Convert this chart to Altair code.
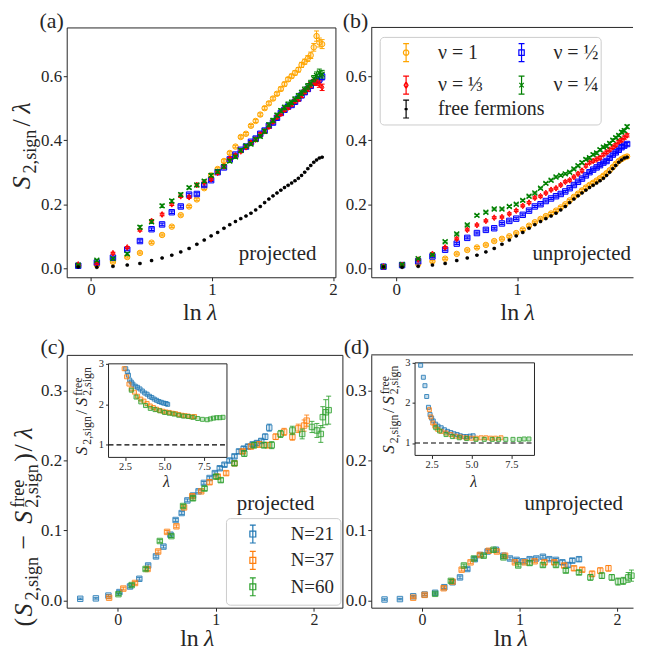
import altair as alt
import pandas as pd

FONT = "Liberation Serif"
INK = "#262626"

# ---------------- data: panels (a) and (b) ----------------
LN_LAMBDA = [-0.105, 0.049, 0.182, 0.300, 0.405, 0.501, 0.588, 0.668, 0.742, 0.811,
             0.875, 0.936, 0.993, 1.047, 1.099, 1.147, 1.194, 1.238, 1.281, 1.322,
             1.361, 1.399, 1.435, 1.470, 1.504, 1.537, 1.569, 1.599, 1.629, 1.658,
             1.686, 1.714, 1.740, 1.766, 1.792, 1.816, 1.841, 1.864, 1.887, 1.910]

A_NU1 = [0.008, 0.010, 0.020, 0.035, 0.048, 0.080, 0.104, 0.130, 0.166, 0.193,
         0.215, 0.250, 0.290, 0.310, 0.335, 0.360, 0.380, 0.410, 0.420, 0.445,
         0.460, 0.480, 0.500, 0.515, 0.530, 0.545, 0.560, 0.575, 0.590, 0.600,
         0.610, 0.620, 0.635, 0.645, 0.655, 0.665, 0.690, 0.725, 0.705, 0.700]
A_NU2 = [0.008, 0.018, 0.033, 0.058, 0.085, 0.122, 0.137, 0.175, 0.193, 0.230,
         0.232, 0.260, 0.275, 0.300, 0.315, 0.340, 0.355, 0.370, 0.380, 0.395,
         0.405, 0.420, 0.430, 0.445, 0.455, 0.470, 0.485, 0.495, 0.505, 0.510,
         0.520, 0.530, 0.540, 0.550, 0.560, 0.570, 0.580, 0.585, 0.590, 0.598]
A_NU3 = [0.012, 0.015, 0.047, 0.065, 0.120, 0.148, 0.168, 0.200, 0.225, 0.222,
         0.260, 0.268, 0.278, 0.298, 0.318, 0.342, 0.352, 0.365, 0.378, 0.392,
         0.402, 0.418, 0.428, 0.442, 0.458, 0.472, 0.482, 0.495, 0.502, 0.512,
         0.522, 0.528, 0.540, 0.552, 0.560, 0.572, 0.582, 0.580, 0.575, 0.565]
A_NU4 = [0.010, 0.025, 0.030, 0.045, 0.128, 0.145, 0.195, 0.210, 0.230, 0.252,
         0.260, 0.272, 0.290, 0.302, 0.318, 0.335, 0.348, 0.368, 0.382, 0.388,
         0.402, 0.412, 0.428, 0.448, 0.462, 0.478, 0.492, 0.502, 0.512, 0.518,
         0.528, 0.538, 0.548, 0.558, 0.568, 0.578, 0.592, 0.602, 0.610, 0.606]
FREE = [0.004, 0.003, 0.006, 0.010, 0.015, 0.024, 0.032, 0.041, 0.051, 0.062,
        0.075, 0.088, 0.101, 0.112, 0.125, 0.136, 0.146, 0.155, 0.163, 0.172,
        0.182, 0.193, 0.205, 0.216, 0.226, 0.235, 0.244, 0.252, 0.259, 0.266,
        0.273, 0.281, 0.290, 0.300, 0.311, 0.321, 0.331, 0.338, 0.344, 0.347]

B_NU1 = [0.005, 0.010, 0.013, 0.022, 0.030, 0.045, 0.057, 0.065, 0.073, 0.085,
         0.092, 0.100, 0.110, 0.121, 0.133, 0.144, 0.154, 0.163, 0.171, 0.180,
         0.190, 0.200, 0.212, 0.223, 0.233, 0.243, 0.252, 0.260, 0.267, 0.274,
         0.281, 0.289, 0.297, 0.306, 0.316, 0.326, 0.335, 0.341, 0.346, 0.349]
B_NU2 = [0.005, 0.010, 0.022, 0.037, 0.058, 0.077, 0.095, 0.110, 0.120, 0.125,
         0.140, 0.148, 0.155, 0.167, 0.180, 0.193, 0.200, 0.210, 0.218, 0.225,
         0.232, 0.240, 0.250, 0.260, 0.270, 0.280, 0.290, 0.300, 0.308, 0.315,
         0.322, 0.330, 0.335, 0.345, 0.355, 0.362, 0.370, 0.378, 0.383, 0.388]
B_NU3 = [0.005, 0.010, 0.027, 0.045, 0.065, 0.092, 0.120, 0.135, 0.148, 0.158,
         0.160, 0.170, 0.180, 0.195, 0.205, 0.220, 0.225, 0.235, 0.245, 0.250,
         0.260, 0.270, 0.275, 0.285, 0.295, 0.305, 0.320, 0.330, 0.335, 0.340,
         0.345, 0.355, 0.362, 0.370, 0.378, 0.385, 0.395, 0.400, 0.408, 0.415]
B_NU4 = [0.005, 0.012, 0.030, 0.042, 0.083, 0.107, 0.135, 0.165, 0.175, 0.185,
         0.185, 0.193, 0.200, 0.212, 0.225, 0.235, 0.250, 0.265, 0.275, 0.285,
         0.290, 0.295, 0.300, 0.310, 0.320, 0.330, 0.340, 0.345, 0.355, 0.360,
         0.370, 0.378, 0.382, 0.390, 0.400, 0.408, 0.415, 0.425, 0.430, 0.442]

ERR_A_NU1 = [0.003, 0.003, 0.003, 0.003, 0.003, 0.003, 0.003, 0.003, 0.003, 0.003,
             0.004, 0.004, 0.004, 0.004, 0.004, 0.004, 0.004, 0.004, 0.004, 0.004,
             0.005, 0.005, 0.005, 0.005, 0.005, 0.005, 0.006, 0.006, 0.006, 0.006,
             0.007, 0.007, 0.008, 0.008, 0.009, 0.010, 0.012, 0.016, 0.014, 0.014]
ERR_A_MID = [0.003, 0.003, 0.003, 0.003, 0.004, 0.004, 0.004, 0.004, 0.004, 0.004,
             0.004, 0.004, 0.004, 0.004, 0.004, 0.004, 0.004, 0.004, 0.004, 0.004,
             0.005, 0.005, 0.005, 0.005, 0.005, 0.005, 0.005, 0.005, 0.006, 0.006,
             0.006, 0.006, 0.007, 0.007, 0.007, 0.008, 0.008, 0.009, 0.010, 0.010]
ERR_A_NU4 = [0.003, 0.003, 0.003, 0.004, 0.005, 0.005, 0.005, 0.005, 0.005, 0.004,
             0.004, 0.004, 0.005, 0.005, 0.005, 0.005, 0.005, 0.005, 0.005, 0.005,
             0.005, 0.005, 0.006, 0.006, 0.006, 0.006, 0.006, 0.007, 0.007, 0.007,
             0.007, 0.008, 0.008, 0.008, 0.009, 0.009, 0.010, 0.011, 0.012, 0.012]
ERR_B = [0.002, 0.002, 0.002, 0.003, 0.003, 0.003, 0.003, 0.003, 0.003, 0.003,
         0.003, 0.003, 0.003, 0.003, 0.003, 0.003, 0.003, 0.003, 0.003, 0.003,
         0.003, 0.003, 0.003, 0.003, 0.003, 0.004, 0.004, 0.004, 0.004, 0.004,
         0.004, 0.004, 0.004, 0.004, 0.004, 0.004, 0.004, 0.005, 0.005, 0.005]
ERR_FREE = [0.002, 0.002, 0.002, 0.002, 0.002, 0.002, 0.002, 0.002, 0.002, 0.002,
            0.002, 0.002, 0.002, 0.002, 0.002, 0.002, 0.002, 0.002, 0.002, 0.002,
            0.002, 0.002, 0.002, 0.002, 0.002, 0.002, 0.002, 0.002, 0.002, 0.002,
            0.002, 0.002, 0.002, 0.002, 0.002, 0.002, 0.002, 0.002, 0.002, 0.002]

# ---------------- data: panel (c) (projected) ----------------
C_N21_X = [-0.382, -0.223, -0.095, 0.017, 0.125, 0.220, 0.310, 0.390, 0.466, 0.537,
           0.590, 0.652, 0.710, 0.767, 0.824, 0.878, 0.936, 0.990, 1.040, 1.088,
           1.139, 1.190, 1.236, 1.284, 1.328, 1.375, 1.419, 1.463, 1.503, 1.544]
C_N21_Y = [0.0024, 0.003, 0.007, 0.012, 0.020, 0.031, 0.050, 0.063, 0.077, 0.094,
           0.115, 0.125, 0.143, 0.150, 0.156, 0.168, 0.175, 0.182, 0.189, 0.194,
           0.200, 0.206, 0.213, 0.217, 0.220, 0.223, 0.225, 0.228, 0.234, 0.247]
C_N21_E = [0.001, 0.001, 0.0015, 0.002, 0.002, 0.002, 0.002, 0.002, 0.002, 0.002,
           0.002, 0.002, 0.002, 0.002, 0.002, 0.002, 0.002, 0.002, 0.0025, 0.0025,
           0.0025, 0.0025, 0.003, 0.003, 0.003, 0.003, 0.003, 0.003, 0.004, 0.005]
C_N37_X = [-0.088, 0.057, 0.176, 0.304, 0.412, 0.503, 0.598, 0.676, 0.760, 0.851,
           0.936, 1.020, 1.105, 1.190, 1.274, 1.358, 1.443, 1.527, 1.610, 1.696,
           1.780, 1.840, 1.900, 1.926]
C_N37_Y = [0.004, 0.017, 0.025, 0.045, 0.070, 0.098, 0.106, 0.133, 0.149, 0.156,
           0.169, 0.177, 0.182, 0.196, 0.213, 0.220, 0.223, 0.222, 0.234, 0.241,
           0.234, 0.246, 0.250, 0.257]
C_N37_E = [0.0015, 0.002, 0.002, 0.002, 0.002, 0.002, 0.002, 0.002, 0.002, 0.002,
           0.003, 0.003, 0.003, 0.003, 0.003, 0.003, 0.004, 0.004, 0.004, 0.005,
           0.005, 0.006, 0.008, 0.008]
C_N60_X = [0.007, 0.142, 0.284, 0.429, 0.547, 0.666, 0.767, 0.885, 1.003, 1.050,
           1.190, 1.290, 1.390, 1.490, 1.570, 1.660, 1.780, 1.880, 1.980, 2.030,
           2.070, 2.090, 2.120, 2.150]
C_N60_Y = [0.009, 0.022, 0.045, 0.085, 0.092, 0.135, 0.146, 0.160, 0.177, 0.172,
           0.196, 0.210, 0.222, 0.222, 0.222, 0.238, 0.243, 0.238, 0.248, 0.243,
           0.238, 0.262, 0.269, 0.272]
C_N60_E = [0.002, 0.002, 0.002, 0.002, 0.002, 0.002, 0.003, 0.003, 0.003, 0.003,
           0.003, 0.004, 0.004, 0.004, 0.005, 0.005, 0.006, 0.007, 0.008, 0.010,
           0.012, 0.015, 0.018, 0.020]

# ---------------- data: panel (d) (unprojected) ----------------
D_N21_X = [-0.384, -0.226, -0.090, 0.027, 0.135, 0.229, 0.313, 0.390, 0.465, 0.542,
           0.600, 0.673, 0.758, 0.835, 0.902, 0.970, 1.037, 1.104, 1.172, 1.240,
           1.306, 1.374, 1.440, 1.498, 1.542, 1.610]
D_N21_Y = [0.0014, 0.002, 0.006, 0.0085, 0.011, 0.019, 0.026, 0.033, 0.045, 0.059,
           0.065, 0.070, 0.0725, 0.064, 0.060, 0.058, 0.056, 0.059, 0.060, 0.0625,
           0.059, 0.058, 0.0545, 0.0507, 0.057, 0.059]
D_N21_E = [0.001, 0.001, 0.001, 0.0015, 0.0015, 0.002, 0.002, 0.002, 0.002, 0.002,
           0.002, 0.002, 0.002, 0.002, 0.002, 0.002, 0.002, 0.002, 0.002, 0.002,
           0.002, 0.002, 0.003, 0.003, 0.003, 0.003]
D_N37_X = [-0.090, 0.027, 0.222, 0.313, 0.407, 0.498, 0.593, 0.684, 0.768, 0.852,
           0.953, 1.054, 1.155, 1.256, 1.357, 1.458, 1.559, 1.643, 1.744, 1.828, 1.912]
D_N37_Y = [0.004, 0.008, 0.0175, 0.027, 0.044, 0.0545, 0.065, 0.071, 0.070, 0.064,
           0.0545, 0.0545, 0.056, 0.0545, 0.0545, 0.050, 0.046, 0.044, 0.038, 0.0427, 0.046]
D_N37_E = [0.001, 0.0015, 0.002, 0.002, 0.002, 0.002, 0.002, 0.002, 0.002, 0.002,
           0.002, 0.002, 0.002, 0.003, 0.003, 0.003, 0.003, 0.003, 0.004, 0.004, 0.004]
D_N60_X = [0.135, 0.296, 0.430, 0.532, 0.633, 0.734, 0.835, 0.987, 1.104, 1.240,
           1.374, 1.475, 1.610, 1.727, 1.845, 1.946, 2.010, 2.064, 2.114, 2.148]
D_N60_Y = [0.0095, 0.028, 0.050, 0.060, 0.064, 0.0725, 0.0616, 0.050, 0.0536, 0.0507,
           0.0507, 0.0427, 0.040, 0.033, 0.0355, 0.033, 0.027, 0.028, 0.033, 0.0355]
D_N60_E = [0.0015, 0.002, 0.002, 0.002, 0.002, 0.002, 0.002, 0.002, 0.003, 0.003,
           0.003, 0.003, 0.003, 0.004, 0.004, 0.004, 0.005, 0.005, 0.007, 0.008]

# ---------------- data: insets (ratio vs lambda) ----------------
CI_N21_L = [2.55, 2.65, 2.72, 2.8, 2.9, 3.0, 3.15, 3.3, 3.45, 3.6, 3.75, 3.9, 4.05,
            4.2, 4.35, 4.5, 4.65, 4.8, 4.95, 5.1, 5.2]
CI_N21_R = [2.88, 2.8, 2.72, 2.6, 2.55, 2.5, 2.45, 2.42, 2.38, 2.33, 2.28, 2.25, 2.2,
            2.17, 2.13, 2.1, 2.07, 2.05, 2.03, 2.02, 2.0]
CI_N37_L = [2.45, 2.6, 2.75, 2.9, 3.1, 3.3, 3.5, 3.7, 3.9, 4.1, 4.3, 4.5, 4.7, 4.9,
            5.1, 5.3, 5.5, 5.7, 5.9, 6.1, 6.3, 6.5, 6.7, 6.9]
CI_N37_R = [2.88, 2.68, 2.5, 2.38, 2.3, 2.2, 2.13, 2.08, 2.02, 1.96, 1.92, 1.88, 1.85,
            1.83, 1.81, 1.8, 1.78, 1.77, 1.75, 1.73, 1.72, 1.71, 1.69, 1.7]
CI_N60_L = [2.9, 3.2, 3.5, 3.8, 4.1, 4.4, 4.7, 5.0, 5.3, 5.6, 5.9, 6.2, 6.5, 6.8, 7.1,
            7.4, 7.7, 7.9, 8.1, 8.3, 8.5, 8.7]
CI_N60_R = [2.35, 2.18, 2.06, 1.97, 1.9, 1.87, 1.84, 1.8, 1.78, 1.76, 1.73, 1.71, 1.7,
            1.68, 1.65, 1.63, 1.62, 1.64, 1.66, 1.67, 1.67, 1.68]

DI_N21_L = [1.81, 1.98, 2.08, 2.19, 2.3, 2.4, 2.5, 2.6, 2.75, 2.9, 3.1, 3.3, 3.5, 3.7,
            3.9, 4.1, 4.3, 4.5, 4.7, 4.9, 5.1]
DI_N21_R = [2.94, 2.64, 2.43, 2.16, 1.89, 1.71, 1.62, 1.55, 1.47, 1.42, 1.38, 1.33,
            1.29, 1.26, 1.23, 1.21, 1.18, 1.16, 1.16, 1.17, 1.18]
DI_N37_L = [2.36, 2.45, 2.57, 2.7, 2.88, 3.1, 3.4, 3.7, 4.0, 4.3, 4.65, 5.0, 5.3, 5.6,
            5.9, 6.2, 6.5, 6.85]
DI_N37_R = [1.83, 1.65, 1.5, 1.42, 1.34, 1.29, 1.25, 1.21, 1.17, 1.15, 1.13, 1.12,
            1.12, 1.13, 1.13, 1.12, 1.12, 1.13]
DI_N60_L = [2.76, 3.0, 3.4, 3.8, 4.23, 4.7, 5.28, 5.8, 6.3, 6.7, 7.15, 7.6, 8.0, 8.3, 8.6]
DI_N60_R = [1.38, 1.3, 1.21, 1.16, 1.13, 1.11, 1.09, 1.09, 1.09, 1.09, 1.09, 1.09,
            1.09, 1.1, 1.1]

# ---------------- labels / colours ----------------
NU_LABELS = ["ν = 1", "ν = ½", "ν = ⅓", "ν = ¼"]
FREE_LABEL = "free fermions"
NU_COLORS = ["#ffa500", "#0000ff", "#ff0000", "#008000", "#000000"]
N_LABELS = ["N=21", "N=37", "N=60"]
N_COLORS = ["#1f77b4", "#ff7f0e", "#2ca02c"]
REF_RATIO = 1.0

# ---------------- layout constants ----------------
WA, HA = 270, 251
WB = 263
WC, HC = 277, 254
WD = 263
XD_A = [-0.2, 2.02]
XD_B = [-0.206, 1.959]
YD_AB = [-0.028, 0.752]
XD_C = [-0.52, 2.29]
XD_D = [-0.52, 2.164]
YD_CD = [-0.0103, 0.351]
INSET_XD = [1.46, 8.95]
INSET_YD = [0.69, 3.0]

THIN_DIAMOND = "M0,-1L0.6,0L0,1L-0.6,0Z"
XMARK = "M-1,-1L1,1M-1,1L1,-1"
EB = "M0,-1L0,1M-0.33,-1L0.33,-1M-0.33,1L0.33,1"
L_CIRCLE = EB + "M0.3,0A0.3,0.3 0 1,1 -0.3,0A0.3,0.3 0 1,1 0.3,0Z"
L_SQUARE = EB + "M-0.3,-0.3L0.3,-0.3L0.3,0.3L-0.3,0.3Z"
L_DIAMOND = EB + "M0,-0.38L0.22,0L0,0.38L-0.22,0Z"
L_X = EB + "M-0.25,-0.25L0.25,0.25M-0.25,0.25L0.25,-0.25"
L_DOT = EB + "M0.12,0A0.12,0.12 0 1,1 -0.12,0A0.12,0.12 0 1,1 0.12,0Z"
L_SQ = EB + "M-0.33,-0.33L0.33,-0.33L0.33,0.33L-0.33,0.33Z"

ONE = pd.DataFrame({"k": [0]})

# advance widths (em) of the math glyphs, Computer-Modern-like spacing
CW = {" ": 0.25, "(": 0.389, ")": 0.389, ",": 0.278, ".": 0.278, "/": 0.5,
      "=": 0.778, "−": 0.778, "a": 0.5, "c": 0.444, "d": 0.556, "e": 0.444,
      "f": 0.306, "g": 0.5, "i": 0.278, "j": 0.306, "l": 0.278, "n": 0.556,
      "o": 0.5, "p": 0.556, "r": 0.392, "s": 0.394, "t": 0.389, "u": 0.556,
      "S": 0.613, "λ": 0.583, "N": 0.75}


def txt(text, x, y, size, align="left", style="normal", angle=0, dx=0.0, dy=0.0):
    return alt.Chart(ONE).mark_text(
        text=text, font=FONT, fontSize=size, fontStyle=style, align=align,
        baseline="alphabetic", angle=angle, dx=dx, dy=dy, color=INK
    ).encode(x=alt.value(x), y=alt.value(y))


def seg_w(t, sc, size):
    return sum(CW.get(c, 0.5) for c in t) * sc * size


def math_label(segs, x, y, size, angle=0):
    pos = 0.0
    placed = []
    for s in segs:
        t, it, sc, sh = s[0], s[1], s[2], s[3]
        adv = s[4] if len(s) > 4 else True
        gap = s[5] if len(s) > 5 else 0.0
        placed.append((t, it, sc, sh, pos))
        if adv:
            pos += seg_w(t, sc, size) + gap * size
    start = -pos / 2.0
    return [txt(t, x, y, size * sc, style="italic" if it else "normal", angle=angle,
                dx=round(start + p, 2), dy=round(sh * size, 2))
            for (t, it, sc, sh, p) in placed]


SUB, SUP = 0.24, -0.30
LN_TITLE = [("ln", False, 1, 0, True, 0.17), ("λ", True, 1, 0)]
Y_AB = [("S", True, 1, 0), ("2,sign", False, 0.7, SUB, True, 0.06), ("/", False, 1, 0),
        ("λ", True, 1, 0)]
Y_CD = [("(", False, 1, 0), ("S", True, 1, 0), ("2,sign", False, 0.7, SUB, True, 0.22),
        ("−", False, 1, 0, True, 0.22), ("S", True, 1, 0), ("free", False, 0.7, SUP, False),
        ("2,sign", False, 0.7, SUB, True, 0.03), (")", False, 1, 0), ("/", False, 1, 0),
        ("λ", True, 1, 0)]
Y_INSET = [("S", True, 1, 0), ("2,sign", False, 0.7, SUB, True, 0.03), ("/", False, 1, 0),
           ("S", True, 1, 0), ("free", False, 0.7, SUP, False), ("2,sign", False, 0.7, SUB)]


def axis(values, fmt, orient, domain=False, size=17, offset=0, tick=3.5, pad=1):
    return alt.Axis(values=values, format=fmt, orient=orient, title=None, grid=False,
                    domain=domain, domainColor=INK, domainWidth=1, tickColor=INK,
                    tickSize=tick, tickWidth=1, labelColor=INK, labelFont=FONT,
                    labelFontSize=size, labelPadding=pad, labelFlush=False,
                    labelOverlap=False, offset=offset)


def series_layers(xs, ys, es, color, shape, size, sx, sy, ax, ay, fill_op=0.25,
                  sw=1.0, cap=5, op=1.0):
    df = pd.DataFrame({"x": xs, "y": ys, "e": es})
    base = alt.Chart(df).transform_calculate(lo="datum.y - datum.e", hi="datum.y + datum.e")
    X = alt.X("x:Q", scale=sx, axis=ax)
    out = [base.mark_rule(color=color, strokeWidth=1, opacity=op).encode(
        x=X, y=alt.Y("lo:Q", scale=sy, axis=ay), y2="hi:Q")]
    for f in ("lo", "hi"):
        out.append(base.mark_point(shape="stroke", size=cap * cap, color=color, filled=False,
                                   strokeWidth=1, opacity=op).encode(
            x=X, y=alt.Y(f + ":Q", scale=sy, axis=ay)))
    out.append(base.mark_point(shape=shape, size=size, filled=True, fill=color,
                               fillOpacity=fill_op, stroke=color, strokeWidth=sw,
                               opacity=op).encode(x=X, y=alt.Y("y:Q", scale=sy, axis=ay)))
    return out


NU_MARKS = [("circle", 30, 0.25, 1.0, 5), ("square", 30, 0.25, 1.0, 5),
            (THIN_DIAMOND, 34, 0.45, 1.0, 5), (XMARK, 24, 0.0, 1.4, 5),
            ("circle", 9, 1.0, 0.5, 3)]


def legend_layer(labels, colors, shapes, leg):
    df = pd.DataFrame({"series": labels})
    return alt.Chart(df).transform_filter("false").mark_point(
        filled=False, strokeWidth=1.2, opacity=1).encode(
        color=alt.Color("series:N", scale=alt.Scale(domain=labels, range=colors), legend=leg),
        shape=alt.Shape("series:N", scale=alt.Scale(domain=labels, range=shapes), legend=leg))


def free_legend_layer(leg):
    df = pd.DataFrame({"ff": [FREE_LABEL]})
    return alt.Chart(df).transform_filter("false").mark_point(
        filled=False, strokeWidth=1.2, color="black").encode(
        opacity=alt.Opacity("ff:N", scale=alt.Scale(domain=[FREE_LABEL], range=[1]),
                            legend=leg))


def panel_ab(ys_list, errs, xd, width, letter, tag, tag_x, title_x, framed, xvals,
             legends=None):
    sx = alt.Scale(domain=xd, nice=False, zero=False)
    sy = alt.Scale(domain=YD_AB, nice=False, zero=False)
    ax = axis(xvals, "d", "bottom", domain=not framed)
    ay = axis([0.0, 0.2, 0.4, 0.6], ".1f", "left", domain=not framed, pad=1.5)
    layers = []
    for ys, es, color, (shp, sz, fo, sw, cap) in zip(ys_list, errs, NU_COLORS, NU_MARKS):
        layers += series_layers(LN_LAMBDA, ys, es, color, shp, sz, sx, sy, ax, ay,
                                fill_op=fo, sw=sw, cap=cap)
    if legends is not None:
        layers.append(alt.Chart(ONE).mark_rect(
            fill="white", fillOpacity=0.85, stroke="#cccccc", strokeWidth=1,
            cornerRadius=4).encode(x=alt.value(9), x2=alt.value(231),
                                   y=alt.value(10), y2=alt.value(98)))
        layers.append(legend_layer(NU_LABELS, NU_COLORS[:4],
                                   [L_CIRCLE, L_SQUARE, L_DIAMOND, L_X], legends[0]))
        layers.append(free_legend_layer(legends[1]))
    layers.append(txt(letter, -3, 1, 22, align="right"))
    layers.append(txt(tag, tag_x, 234, 21, align="right"))
    layers += math_label(LN_TITLE, title_x, 294, 24)
    if letter == "(a)":
        layers += math_label(Y_AB, -37, 117, 26, angle=270)
    if not framed:
        layers.append(alt.Chart(ONE).mark_rule(color=INK, strokeWidth=1).encode(
            x=alt.value(0), x2=alt.value(width), y=alt.value(0)))
    ch = alt.layer(*layers).properties(width=width, height=HA)
    if not framed:
        ch = ch.properties(view=alt.ViewBackground(stroke="transparent"))
    return ch


def inset(series, xr, yr):
    isx = alt.Scale(domain=INSET_XD, range=xr, nice=False, zero=False)
    isy = alt.Scale(domain=INSET_YD, range=yr, nice=False, zero=False)
    iax = axis([2.5, 5.0, 7.5], ".1f", "bottom", size=10.5, offset=yr[0] - HC, tick=3,
               pad=1)
    iay = axis([1, 2, 3], "d", "left", size=10.5, offset=-xr[0], tick=3, pad=2)
    frame = alt.Chart(ONE).mark_rect(fill="white", stroke=INK, strokeWidth=1).encode(
        x=alt.XDatum(INSET_XD[0], type="quantitative", scale=isx, axis=iax),
        x2=alt.X2Datum(INSET_XD[1]),
        y=alt.YDatum(INSET_YD[0], type="quantitative", scale=isy, axis=iay),
        y2=alt.Y2Datum(INSET_YD[1]))
    dash = alt.Chart(ONE).mark_rule(color="black", strokeDash=[5, 3], strokeWidth=1.2).encode(
        x=alt.XDatum(INSET_XD[0], type="quantitative", scale=isx, axis=iax),
        x2=alt.X2Datum(INSET_XD[1]),
        y=alt.YDatum(REF_RATIO, type="quantitative", scale=isy, axis=iay))
    layers = [frame, dash]
    for (lx, ry), color in zip(series, N_COLORS):
        df = pd.DataFrame({"lam": lx, "ratio": ry})
        layers.append(alt.Chart(df).mark_point(
            shape="square", size=16, filled=True, fill=color, fillOpacity=0.3,
            stroke=color, strokeWidth=1, opacity=0.85).encode(
            x=alt.X("lam:Q", scale=isx, axis=iax), y=alt.Y("ratio:Q", scale=isy, axis=iay)))
    return layers


def panel_cd(data, xd, width, letter, tag, tag_x, title_x, inset_series, xr, yr, ilabel,
             framed, legend=None):
    sx = alt.Scale(domain=xd, nice=False, zero=False)
    sy = alt.Scale(domain=YD_CD, nice=False, zero=False)
    ax = axis([0, 1, 2], "d", "bottom", domain=not framed, size=16, pad=0)
    ay = axis([0.0, 0.1, 0.2, 0.3], ".1f", "left", domain=not framed, pad=1.5)
    main = []
    for (xs, ys, es), color in zip(data, N_COLORS):
        main += series_layers(xs, ys, es, color, "square", 30, sx, sy, ax, ay,
                              fill_op=0.2, sw=1.0, cap=5, op=0.85)
    if legend is not None:
        main.append(legend_layer(N_LABELS, N_COLORS, [L_SQ, L_SQ, L_SQ], legend))
    main.append(txt(letter, -2, -1, 22, align="right"))
    main.append(txt(tag, tag_x, 156, 21, align="right"))
    main += math_label(LN_TITLE, title_x, 293, 24)
    if letter == "(c)":
        main += math_label(Y_CD, -35, 171, 26, angle=270)
    if not framed:
        main.append(alt.Chart(ONE).mark_rule(color=INK, strokeWidth=1).encode(
            x=alt.value(0), x2=alt.value(width), y=alt.value(0)))
    ins = inset(inset_series, xr, yr)
    ins += math_label([("λ", True, 1, 0)], (xr[0] + xr[1]) / 2, 133, 16)
    ins += math_label(Y_INSET, ilabel, (yr[0] + yr[1]) / 2, 17, angle=270)
    ch = alt.layer(alt.layer(*main), alt.layer(*ins)).resolve_scale(
        x="independent", y="independent").properties(width=width, height=HC)
    if not framed:
        ch = ch.properties(view=alt.ViewBackground(stroke="transparent"))
    return ch


LEG_B = alt.Legend(orient="none", legendX=25, legendY=15, columns=2, direction="horizontal",
                   title=None, labelFont=FONT, labelFontSize=20, labelColor=INK,
                   symbolSize=324, symbolStrokeWidth=1.2, labelOffset=22,
                   columnPadding=28, rowPadding=9, padding=0)
LEG_FREE = alt.Legend(orient="none", legendX=25, legendY=72, title=None, labelFont=FONT,
                      labelFontSize=20, labelColor=INK, symbolSize=324,
                      symbolStrokeWidth=1.2, symbolType=L_DOT, symbolStrokeColor="black",
                      symbolFillColor="transparent", labelOffset=22, padding=0)
LEG_C = alt.Legend(orient="none", legendX=160, legendY=164, title=None, labelFont=FONT,
                   labelFontSize=19, labelColor=INK, symbolSize=324, symbolStrokeWidth=1.2,
                   symbolOffset=11, labelOffset=28, rowPadding=2.5, padding=6,
                   strokeColor="#cccccc", fillColor="rgba(255,255,255,0.85)", cornerRadius=4)

pa = panel_ab([A_NU1, A_NU2, A_NU3, A_NU4, FREE],
              [ERR_A_NU1, ERR_A_MID, ERR_A_MID, ERR_A_NU4, ERR_FREE],
              XD_A, WA, "(a)", "projected", 251, 136, True, [0, 1, 2])
pb = panel_ab([B_NU1, B_NU2, B_NU3, B_NU4, FREE],
              [ERR_B, ERR_B, ERR_B, ERR_B, ERR_FREE],
              XD_B, WB, "(b)", "unprojected", 261, 149, False, [0, 1],
              legends=(LEG_B, LEG_FREE))
pc = panel_cd([(C_N21_X, C_N21_Y, C_N21_E), (C_N37_X, C_N37_Y, C_N37_E),
               (C_N60_X, C_N60_Y, C_N60_E)], XD_C, WC, "(c)", "projected", 249, 133,
              [(CI_N21_L, CI_N21_R), (CI_N37_L, CI_N37_R), (CI_N60_L, CI_N60_R)],
              [42, 161], [103, 9], 20, True, legend=LEG_C)
pd_ = panel_cd([(D_N21_X, D_N21_Y, D_N21_E), (D_N37_X, D_N37_Y, D_N37_E),
                (D_N60_X, D_N60_Y, D_N60_E)], XD_D, WD, "(d)", "unprojected", 253, 142,
               [(DI_N21_L, DI_N21_R), (DI_N37_L, DI_N37_R), (DI_N60_L, DI_N60_R)],
               [44, 164], [101, 8], 23, False)

chart = alt.concat(pa, pb, pc, pd_, columns=2, spacing={"row": 75, "column": 29},
                   bounds="flush", align="all", padding=0).resolve_scale(
    color="independent", shape="independent", opacity="independent").configure(
    background="white", font=FONT).configure_view(stroke=INK, strokeWidth=1)

chart.save("out.html", embed_options={"renderer": "svg", "actions": False})
